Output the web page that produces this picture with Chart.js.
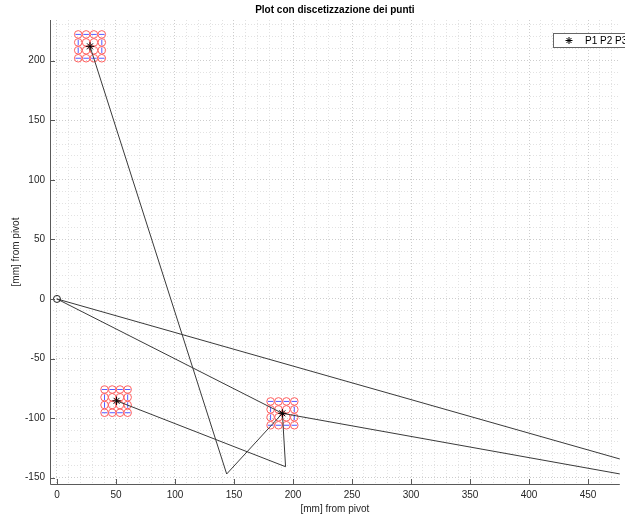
<!DOCTYPE html>
<html>
<head>
<meta charset="utf-8">
<script src="https://cdn.jsdelivr.net/npm/chart.js@4.4.0/dist/chart.umd.min.js"></script>
<style>
  html, body { margin: 0; padding: 0; background: #ffffff; overflow: hidden; }
  #wrap { width: 625px; height: 516px; }
</style>
</head>
<body>
<div id="wrap"><canvas id="c" width="625" height="516"></canvas></div>
<script>
// pivot of the mechanism
const pivotX = [0];
const pivotY = [0];

// target points P1, P2, P3
const targetX = [28, 50.5, 191];
const targetY = [212, -85.5, -96];

// closed loop: pivot -> far joint -> P3 -> pivot
const loopX = [0, 598, 191, 0];
const loopY = [0, -168.4, -96, 0];

// chain: P1 -> joint -> P3 -> joint -> P2
const chainX = [28, 143.8, 191, 193.7, 50.5];
const chainY = [212, -146.9, -96, -140.8, -85.5];

// discretisation grids around each target (column x, row y)
const grid1X = [18, 24.7, 31.3, 38];
const grid1Y = [222, 215.3, 208.7, 202];
const grid2X = [40.3, 46.8, 53.4, 59.9];
const grid2Y = [-76, -82.5, -89, -95.5];
const grid3X = [181, 187.7, 194.4, 201.1];
const grid3Y = [-86, -92.7, -99.3, -106];

// labelled ticks
const xTickLabels = [0, 50, 100, 150, 200, 250, 300, 350, 400, 450];
const yTickLabels = [-150, -100, -50, 0, 50, 100, 150, 200];

const FONT = "'Liberation Sans', Arial, Helvetica, sans-serif";
const TXT = '#262626';

function toPoints(xs, ys) {
  return xs.map((x, i) => ({ x: x, y: ys[i] }));
}

// every node of the three grids
const gridNodes = [];
// nodes on the border of each grid, with the direction of their mark
const borderNodes = [];
const borderRot = [];
[[grid1X, grid1Y], [grid2X, grid2Y], [grid3X, grid3Y]].forEach(([gx, gy]) => {
  gy.forEach((y, r) => {
    gx.forEach((x, c) => {
      gridNodes.push({ x: x, y: y });
      const edgeRow = r === 0 || r === gy.length - 1;
      const edgeCol = c === 0 || c === gx.length - 1;
      if (edgeRow) { borderNodes.push({ x: x, y: y }); borderRot.push(0); }
      else if (edgeCol) { borderNodes.push({ x: x, y: y }); borderRot.push(90); }
    });
  });
});

const frame = {
  id: 'frame',
  afterDraw(chart) {
    const ctx = chart.ctx;
    const a = chart.chartArea;
    const xs = chart.scales.x, ys = chart.scales.y;
    ctx.save();
    // title over the axes
    ctx.fillStyle = '#000';
    ctx.font = 'bold 10px ' + FONT;
    ctx.textAlign = 'center';
    ctx.textBaseline = 'middle';
    ctx.fillText('Plot con discetizzazione dei punti', (a.left + a.right) / 2, 10.5);

    // axis lines
    ctx.strokeStyle = '#5a5a5a';
    ctx.lineWidth = 1;
    ctx.beginPath();
    ctx.moveTo(a.left + 0.5, a.top);
    ctx.lineTo(a.left + 0.5, a.bottom + 0.5);
    ctx.lineTo(a.right, a.bottom + 0.5);
    ctx.stroke();
    // inward tick marks
    ctx.beginPath();
    xTickLabels.forEach(v => {
      const px = Math.round(xs.getPixelForValue(v)) + 0.5;
      ctx.moveTo(px, a.bottom);
      ctx.lineTo(px, a.bottom - 5);
    });
    yTickLabels.forEach(v => {
      const py = Math.round(ys.getPixelForValue(v)) + 0.5;
      ctx.moveTo(a.left, py);
      ctx.lineTo(a.left + 5, py);
    });
    ctx.stroke();

    // legend box
    const lx = 553.5, ly = 33.5, lw = 80, lh = 14;
    ctx.fillStyle = '#fff';
    ctx.fillRect(lx, ly, lw, lh);
    ctx.strokeStyle = '#666';
    ctx.strokeRect(lx, ly, lw, lh);
    ctx.strokeStyle = '#000';
    ctx.fillStyle = '#000';
    Chart.helpers.drawPoint(ctx, { pointStyle: 'star', radius: 3.5, rotation: 0, borderWidth: 1 }, 569, 40.5);
    ctx.font = '10px ' + FONT;
    ctx.textAlign = 'left';
    ctx.textBaseline = 'middle';
    ctx.fillText('P1 P2 P3', 585, 41);
    ctx.restore();
  }
};

new Chart(document.getElementById('c'), {
  type: 'scatter',
  data: {
    datasets: [
      {
        label: 'P1 P2 P3',
        data: toPoints(targetX, targetY),
        pointStyle: 'star',
        pointRadius: 4.2,
        borderColor: '#000',
        backgroundColor: '#000',
        pointBorderWidth: 1
      },
      {
        label: 'pivot',
        data: toPoints(pivotX, pivotY),
        pointStyle: 'circle',
        pointRadius: 3.5,
        borderColor: '#222',
        backgroundColor: 'rgba(0,0,0,0)',
        pointBorderWidth: 1
      },
      {
        label: 'chain',
        data: toPoints(chainX, chainY),
        showLine: true,
        borderColor: '#3a3a3a',
        borderWidth: 1,
        pointRadius: 0
      },
      {
        label: 'loop',
        data: toPoints(loopX, loopY),
        showLine: true,
        borderColor: '#3a3a3a',
        borderWidth: 1,
        pointRadius: 0
      },
      {
        label: 'border marks',
        data: borderNodes,
        pointStyle: 'line',
        pointRadius: 2.8,
        rotation: borderRot,
        borderColor: '#5a5aff',
        pointBorderWidth: 1
      },
      {
        label: 'grid',
        data: gridNodes,
        pointStyle: 'circle',
        pointRadius: 3.8,
        borderColor: '#ff6060',
        backgroundColor: 'rgba(0,0,0,0)',
        pointBorderWidth: 1
      }
    ]
  },
  options: {
    responsive: false,
    animation: false,
    devicePixelRatio: 1,
    layout: { padding: { top: 20, right: 0, left: 0, bottom: 0 } },
    plugins: {
      legend: { display: false },
      title: { display: false },
      tooltip: { enabled: false }
    },
    scales: {
      x: {
        type: 'linear',
        min: -5.9,
        max: 476.9,
        afterFit(s) { s.height = 32; },
        ticks: {
          stepSize: 10,
          autoSkip: false,
          maxRotation: 0,
          includeBounds: false,
          padding: 5,
          color: TXT,
          font: { family: FONT, size: 10 },
          callback: v => (xTickLabels.includes(v) ? String(v) : '')
        },
        grid: {
          drawTicks: false,
          color: c => (c.tick && c.tick.value % 50 === 0 ? '#cdcdcd' : '#e2e2e2'),
          lineWidth: 1
        },
        border: { display: false, dash: [1, 2] },
        title: {
          display: true,
          text: '[mm] from pivot',
          color: TXT,
          font: { family: FONT, size: 10 },
          padding: { top: 0, bottom: 0.5 }
        }
      },
      y: {
        type: 'linear',
        min: -155.3,
        max: 234.1,
        afterFit(s) { s.width = 50; },
        ticks: {
          stepSize: 10,
          autoSkip: false,
          includeBounds: false,
          padding: 5,
          color: TXT,
          font: { family: FONT, size: 10 },
          callback: v => (yTickLabels.includes(v) ? String(v) : '')
        },
        grid: {
          drawTicks: false,
          color: c => (c.tick && c.tick.value % 50 === 0 ? '#cdcdcd' : '#e2e2e2'),
          lineWidth: 1
        },
        border: { display: false, dash: [1, 2] },
        title: {
          display: true,
          text: '[mm] from pivot',
          color: TXT,
          font: { family: FONT, size: 10 },
          padding: { top: 10, bottom: 0 }
        }
      }
    }
  },
  plugins: [frame]
});
</script>
</body>
</html>
